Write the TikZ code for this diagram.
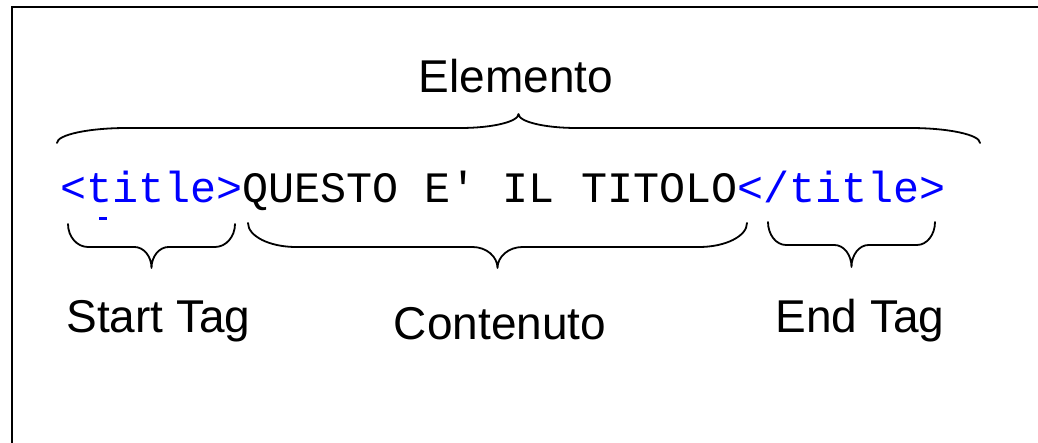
\documentclass[tikz,border=0pt]{standalone}
\usepackage{fontspec}
\setmainfont{Liberation Sans}
\setmonofont{Liberation Mono}
\newcommand{\xbrace}[7]{%
 \pgfmathsetmacro{\brmid}{(#1+#2)/2}%
 \draw[bracestyle] (#1,#3) .. controls (#1,{#3+0.55*(#4-#3)}) and ({#1+0.45*#6},#4) .. ({#1+#6},#4)
  -- ({\brmid-#7},#4) .. controls ({\brmid-0.45*#7},#4) and (\brmid,{#4+0.45*(#5-#4)}) .. (\brmid,#5)
  .. controls (\brmid,{#4+0.45*(#5-#4)}) and ({\brmid+0.45*#7},#4) .. ({\brmid+#7},#4)
  -- ({#2-#6},#4) .. controls ({#2-0.45*#6},#4) and (#2,{#3+0.55*(#4-#3)}) .. (#2,#3);}
\begin{document}
\begin{tikzpicture}[x=1pt,y=-1pt,
  lbl/.style={font=\fontsize{46}{50}\selectfont, inner sep=0pt, anchor=base},
  code/.style={font=\fontsize{43.4}{48}\selectfont\ttfamily, inner sep=0pt, anchor=base west},
  bracestyle/.style={line width=1.8pt, line cap=round, line join=round},
  frame/.style={line width=2pt}]
\useasboundingbox (0,0) rectangle (1038,443);
\draw[frame] (12,445) -- (12,7) -- (1040,7);
\node[lbl] (elem) at (516,93) {Elemento};
\node[code] (code) at (60,203) {\textcolor{blue}{<title>}QUESTO E' IL TITOLO\textcolor{blue}{</title>}};
\fill[blue] (99,217.5) rectangle (107,220);
\xbrace{57}{980}{143}{128}{114}{70}{58}
\xbrace{68}{235}{224}{247}{268}{20}{17}
\xbrace{248}{747}{223}{247}{268}{48}{25}
\xbrace{768}{935}{222}{245}{267}{18}{17}
\node[lbl] (start) at (158.5,333) {Start Tag};
\node[lbl] (cont) at (500,339) {Contenuto};
\node[lbl] (end) at (860,332) {End Tag};
\end{tikzpicture}
\end{document}
